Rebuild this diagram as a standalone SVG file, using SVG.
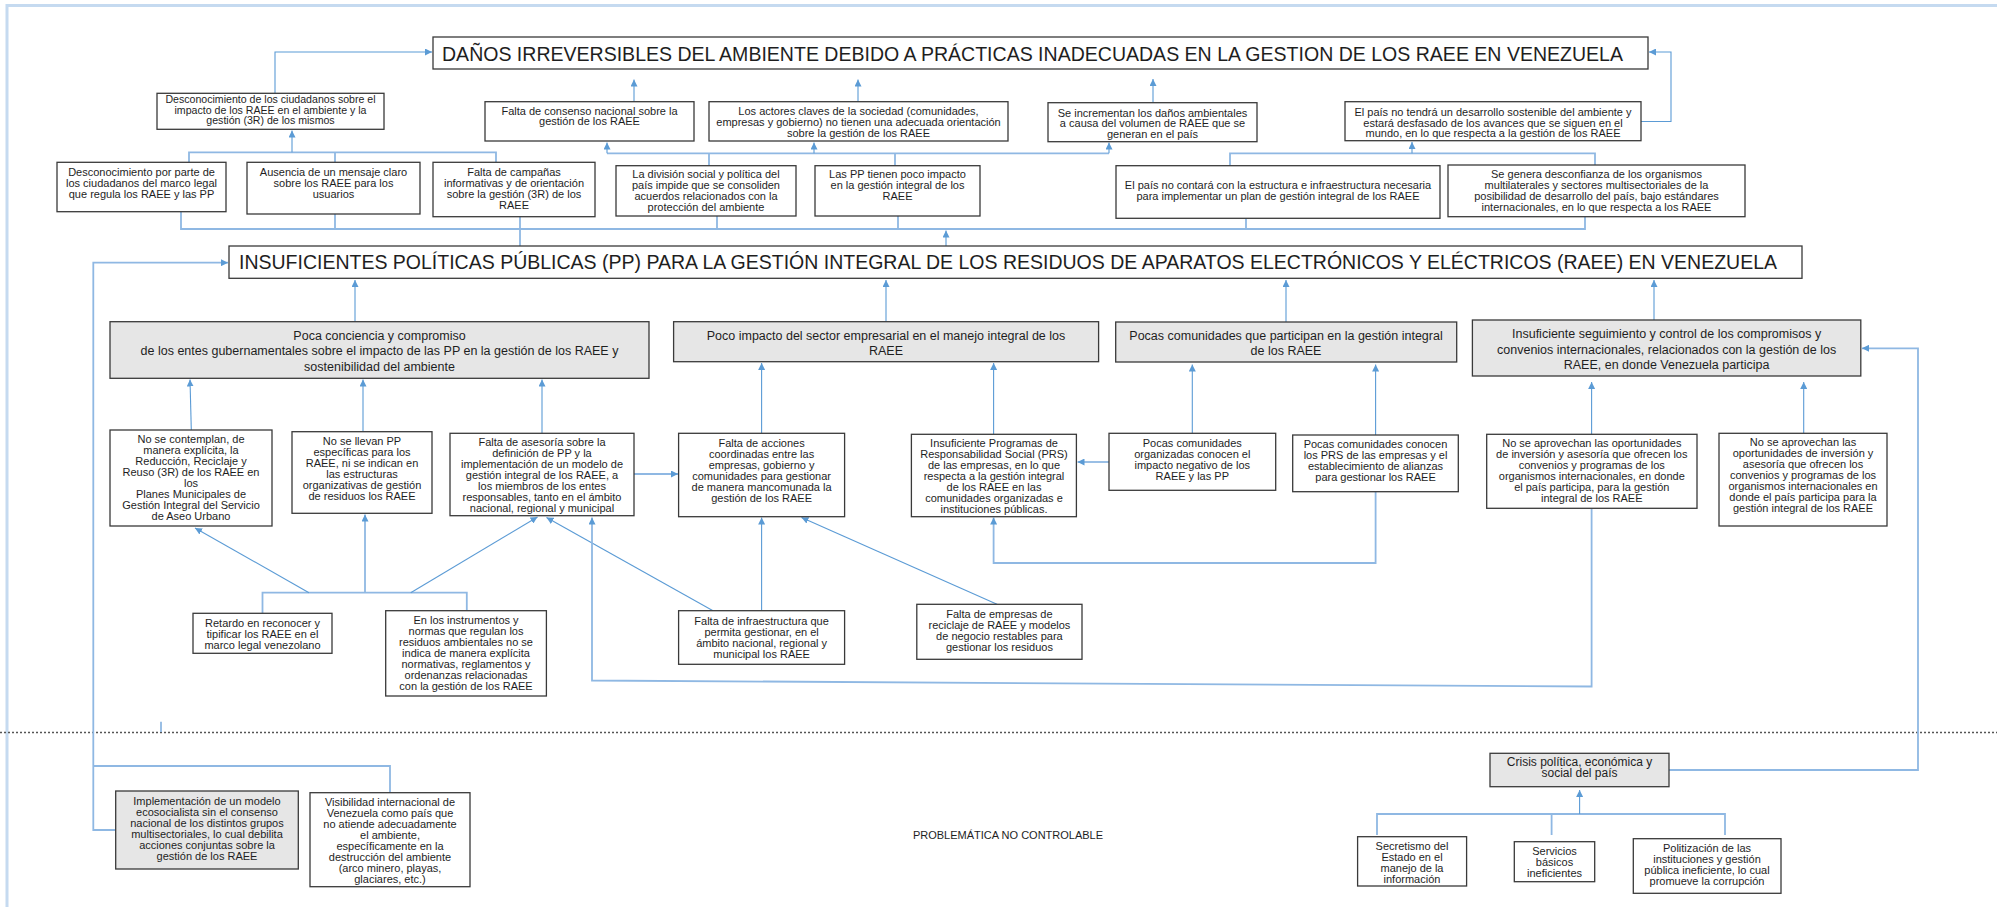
<svg xmlns="http://www.w3.org/2000/svg" width="1997" height="907" viewBox="0 0 1997 907">
<defs>
<marker id="ah" viewBox="0 0 8 8" markerWidth="7" markerHeight="7" refX="8" refY="4" orient="auto" markerUnits="userSpaceOnUse">
<path d="M0,0 L8,4 L0,8 z" fill="#5b9bd5"/>
</marker>
<style>
.b{fill:#fff;stroke:#3a3a3a;stroke-width:1.3}
.g{fill:#e6e6e6;stroke:#3a3a3a;stroke-width:1.3}
text{font-family:"Liberation Sans",Arial,sans-serif;fill:#1e1e1e}
.t{font-size:11px;text-anchor:middle}
.tm{font-size:10.6px;text-anchor:middle}
.tl{font-size:12.5px;text-anchor:middle}
.tc{font-size:12px;text-anchor:middle}
.tt{font-size:21px}
.c1{fill:none;stroke:#5b9bd5;stroke-width:1.1}
.c2{fill:none;stroke:#8fb8e3;stroke-width:1.8}
.ar{marker-end:url(#ah)}
</style>
</defs>
<rect x="0" y="0" width="1997" height="907" fill="#fff"/>
<rect x="7" y="5.5" width="2000" height="910" fill="none" stroke="#c5daf0" stroke-width="3"/>
<line x1="0" y1="732.5" x2="1997" y2="732.5" stroke="#555" stroke-width="1.4" stroke-dasharray="2 2"/>

<g id="connectors">
<path class="c1 ar" d="M275,93.3 V52 H432"/>
<path class="c1 ar" d="M1641,121.5 H1671 V52 H1649"/>
<path class="c1 ar" d="M634,101.7 V79.5"/>
<path class="c1 ar" d="M858,101.7 V79.5"/>
<path class="c1 ar" d="M1153,102.7 V79"/>
<path class="c2" d="M189,162.3 V152.3 H496 V162.3 M335,152.3 V162.3"/>
<path class="c1 ar" d="M292,152.3 V130.5"/>
<path class="c2" d="M607,153.3 H1109 M709,153.3 V165.7 M895,153.3 V165.7"/>
<path class="c1 ar" d="M607,153.3 V142.5"/>
<path class="c1 ar" d="M814,153.3 V142.5"/>
<path class="c1 ar" d="M1109,153.3 V142.5"/>
<path class="c2" d="M1230,165.7 V153.3 H1595 V165"/>
<path class="c1 ar" d="M1412,153.3 V142"/>
<path class="c2" d="M181,211.7 V229 H1585 V216.7 M335,214 V229 M520,216.7 V246 M717,216 V229 M898,216 V229 M1246,218.3 V229"/>
<path class="c1 ar" d="M946,246 V230.5"/>
<path class="c1 ar" d="M355,321.7 V280"/>
<path class="c1 ar" d="M886,321.7 V280"/>
<path class="c1 ar" d="M1286,322 V280"/>
<path class="c1 ar" d="M1654,320 V280"/>
<path class="c2 ar" d="M115.7,830 H93.3 V262.7 H228"/>
<path class="c2" d="M93.3,766 H390 V792.7"/>
<path class="c2" d="M161,721.7 V732"/>
<path class="c1 ar" d="M191.3,430 L190,379.5"/>
<path class="c1 ar" d="M363,431.7 V379.5"/>
<path class="c1 ar" d="M542,433.3 V379.5"/>
<path class="c1 ar" d="M761.6,433.3 V363"/>
<path class="c1 ar" d="M993.6,434.3 V363"/>
<path class="c1 ar" d="M1192.3,433.3 V364.5"/>
<path class="c1 ar" d="M1375.6,435 V364.5"/>
<path class="c1 ar" d="M1591.6,434.3 V382"/>
<path class="c1 ar" d="M1803.7,433.3 V382"/>
<path class="c2 ar" d="M634,474 H678"/>
<path class="c2 ar" d="M1109,462 H1077.5"/>
<path class="c2 ar" d="M1375.6,491.7 V563 H993.6 V517.5"/>
<path class="c2" d="M262.5,613.3 V592.7 H466.8 V610.7"/>
<path class="c1 ar" d="M309,592.7 L195,528"/>
<path class="c2 ar" d="M365,592.7 V514.5"/>
<path class="c1 ar" d="M410.7,592.7 L537.5,517"/>
<path class="c1 ar" d="M713,610.7 L546.5,517.5"/>
<path class="c1 ar" d="M761.6,610.7 V517.5"/>
<path class="c1 ar" d="M997,604.3 L801.5,517.5"/>
<path class="c2 ar" d="M1591.6,508.3 V686.5 L592,680.5 V517.5"/>
<path class="c2 ar" d="M1669,770 H1918 V348.3 H1862"/>
<path class="c2" d="M1377,835 V814 H1725 V835 M1551.6,814 V835"/>
<path class="c1 ar" d="M1579.6,814 V790"/>
</g>

<g id="n-title1">
<rect class="b" x="433" y="37" width="1215" height="32"/>
<text class="tt" x="442" y="60.5" textLength="1181" lengthAdjust="spacingAndGlyphs">DAÑOS IRREVERSIBLES DEL AMBIENTE DEBIDO A PRÁCTICAS INADECUADAS EN LA GESTION DE LOS RAEE EN VENEZUELA</text>
</g>

<g id="n-a">
<rect class="b" x="157" y="93.3" width="227" height="36"/>
<text class="tm" x="270.5" y="103">Desconocimiento de los ciudadanos sobre el</text>
<text class="tm" x="270.5" y="113.5">impacto de los RAEE en el ambiente y la</text>
<text class="tm" x="270.5" y="124">gestión (3R) de los mismos</text>
</g>
<g id="n-b">
<rect class="b" x="485" y="101.7" width="209" height="39.3"/>
<text class="t" x="589.5" y="114.5">Falta de consenso nacional sobre la</text>
<text class="t" x="589.5" y="125">gestión de los RAEE</text>
</g>
<g id="n-c">
<rect class="b" x="709" y="101.7" width="299" height="39.3"/>
<text class="t" x="858.5" y="114.5">Los actores claves de la sociedad (comunidades,</text>
<text class="t" x="858.5" y="125.5">empresas y gobierno) no tienen una adecuada orientación</text>
<text class="t" x="858.5" y="136.5">sobre la gestión de los RAEE</text>
</g>
<g id="n-d">
<rect class="b" x="1048" y="102.7" width="209" height="39"/>
<text class="t" x="1152.5" y="116.5">Se incrementan los daños ambientales</text>
<text class="t" x="1152.5" y="127">a causa del volumen de RAEE que se</text>
<text class="t" x="1152.5" y="137.5">generan en el país</text>
</g>
<g id="n-e">
<rect class="b" x="1345" y="101.7" width="296" height="39"/>
<text class="t" x="1493" y="115.5">El país no tendrá un desarrollo sostenible del ambiente y</text>
<text class="t" x="1493" y="126.5">estará desfasado de los avances que se siguen en el</text>
<text class="t" x="1493" y="137">mundo, en lo que respecta a la gestión de los RAEE</text>
</g>

<g id="n-r3a">
<rect class="b" x="57" y="162.3" width="169" height="49.4"/>
<text class="t" x="141.5" y="175.5">Desconocimiento por parte de</text>
<text class="t" x="141.5" y="186.5">los ciudadanos del marco legal</text>
<text class="t" x="141.5" y="197.5">que regula los RAEE y las PP</text>
</g>
<g id="n-r3b">
<rect class="b" x="247" y="162.3" width="173" height="51.7"/>
<text class="t" x="333.5" y="175.5">Ausencia de un mensaje claro</text>
<text class="t" x="333.5" y="186.5">sobre los RAEE para los</text>
<text class="t" x="333.5" y="197.5">usuarios</text>
</g>
<g id="n-r3c">
<rect class="b" x="433" y="162.3" width="162" height="54.4"/>
<text class="t" x="514" y="176">Falta de campañas</text>
<text class="t" x="514" y="187">informativas y de orientación</text>
<text class="t" x="514" y="198">sobre la gestión (3R) de los</text>
<text class="t" x="514" y="209">RAEE</text>
</g>
<g id="n-r3d">
<rect class="b" x="616" y="165.7" width="180" height="50.3"/>
<text class="t" x="706" y="177.5">La división social y política del</text>
<text class="t" x="706" y="188.5">país  impide que se consoliden</text>
<text class="t" x="706" y="199.5">acuerdos relacionados con la</text>
<text class="t" x="706" y="210.5">protección del ambiente</text>
</g>
<g id="n-r3e">
<rect class="b" x="815" y="165.7" width="165" height="50.3"/>
<text class="t" x="897.5" y="177.5">Las PP tienen poco impacto</text>
<text class="t" x="897.5" y="188.5">en la gestión integral de los</text>
<text class="t" x="897.5" y="199.5">RAEE</text>
</g>
<g id="n-r3f">
<rect class="b" x="1116" y="165.7" width="324" height="52.6"/>
<text class="t" x="1278" y="189">El país no contará con la estructura e infraestructura necesaria</text>
<text class="t" x="1278" y="200">para implementar un plan de gestión integral de los RAEE</text>
</g>
<g id="n-r3g">
<rect class="b" x="1448" y="165" width="297" height="51.7"/>
<text class="t" x="1596.5" y="177.5">Se genera desconfianza de los organismos</text>
<text class="t" x="1596.5" y="188.5">multilaterales y sectores multisectoriales de la</text>
<text class="t" x="1596.5" y="199.5">posibilidad de desarrollo del país, bajo estándares</text>
<text class="t" x="1596.5" y="210.5">internacionales, en lo que respecta a los RAEE</text>
</g>

<g id="n-title2">
<rect class="b" x="229" y="246" width="1573" height="32.3"/>
<text class="tt" x="239" y="269.3" font-size="20" textLength="1538" lengthAdjust="spacingAndGlyphs">INSUFICIENTES POLÍTICAS PÚBLICAS (PP) PARA LA GESTIÓN INTEGRAL DE LOS RESIDUOS DE APARATOS ELECTRÓNICOS Y ELÉCTRICOS (RAEE) EN VENEZUELA</text>
</g>

<g id="n-poca-conciencia">
<rect class="g" x="110" y="321.7" width="539" height="56.6"/>
<text class="tl" x="379.5" y="339.5">Poca conciencia y compromiso</text>
<text class="tl" x="379.5" y="355">de los entes gubernamentales sobre el impacto de las PP en la gestión de los RAEE y</text>
<text class="tl" x="379.5" y="370.5">sostenibilidad del ambiente</text>
</g>
<g id="n-poco-impacto">
<rect class="g" x="673.6" y="321.7" width="425" height="40"/>
<text class="tl" x="886" y="339.5">Poco impacto del sector empresarial en el manejo integral de los</text>
<text class="tl" x="886" y="354.5">RAEE</text>
</g>
<g id="n-pocas-comunidades">
<rect class="g" x="1115.7" y="322" width="341" height="40"/>
<text class="tl" x="1286" y="339.5">Pocas comunidades que participan en la gestión integral</text>
<text class="tl" x="1286" y="355">de los RAEE</text>
</g>
<g id="n-insuficiente-seguimiento">
<rect class="g" x="1472.4" y="320" width="388.4" height="56"/>
<text class="tl" x="1666.6" y="338">Insuficiente seguimiento y control de los compromisos y</text>
<text class="tl" x="1666.6" y="353.5">convenios internacionales, relacionados con la gestión de los</text>
<text class="tl" x="1666.6" y="368.5">RAEE, en donde Venezuela participa</text>
</g>

<g id="n-no-contemplan">
<rect class="b" x="110" y="430" width="162" height="96"/>
<text class="t" x="191" y="443">No se contemplan, de</text>
<text class="t" x="191" y="454">manera explícita, la</text>
<text class="t" x="191" y="465">Reducción, Reciclaje y</text>
<text class="t" x="191" y="476">Reuso (3R) de los RAEE en</text>
<text class="t" x="191" y="487">los</text>
<text class="t" x="191" y="498">Planes Municipales de</text>
<text class="t" x="191" y="509">Gestión Integral del Servicio</text>
<text class="t" x="191" y="520">de Aseo Urbano</text>
</g>
<g id="n-no-llevan">
<rect class="b" x="292" y="431.7" width="140" height="81.6"/>
<text class="t" x="362" y="444.5">No se llevan PP</text>
<text class="t" x="362" y="455.5">específicas para los</text>
<text class="t" x="362" y="466.5">RAEE, ni se indican en</text>
<text class="t" x="362" y="477.5">las estructuras</text>
<text class="t" x="362" y="488.5">organizativas de gestión</text>
<text class="t" x="362" y="499.5">de residuos los RAEE</text>
</g>
<g id="n-falta-asesoria">
<rect class="b" x="450" y="433.3" width="184" height="82.4"/>
<text class="t" x="542" y="446">Falta de asesoría sobre la</text>
<text class="t" x="542" y="457">definición de PP y la</text>
<text class="t" x="542" y="468">implementación de un modelo de</text>
<text class="t" x="542" y="479">gestión integral de los RAEE, a</text>
<text class="t" x="542" y="490">los miembros de  los entes</text>
<text class="t" x="542" y="501">responsables, tanto en el ámbito</text>
<text class="t" x="542" y="512">nacional, regional y municipal</text>
</g>
<g id="n-falta-acciones">
<rect class="b" x="678.6" y="433.3" width="166" height="83.4"/>
<text class="t" x="761.6" y="447">Falta de acciones</text>
<text class="t" x="761.6" y="458">coordinadas entre las</text>
<text class="t" x="761.6" y="469">empresas, gobierno y</text>
<text class="t" x="761.6" y="480">comunidades para gestionar</text>
<text class="t" x="761.6" y="491">de manera mancomunada la</text>
<text class="t" x="761.6" y="502">gestión de los RAEE</text>
</g>
<g id="n-insuficiente-programas">
<rect class="b" x="911.4" y="434.3" width="165" height="82.4"/>
<text class="t" x="994" y="447">Insuficiente Programas de</text>
<text class="t" x="994" y="458">Responsabilidad Social (PRS)</text>
<text class="t" x="994" y="469">de las empresas, en lo que</text>
<text class="t" x="994" y="480">respecta a la gestión integral</text>
<text class="t" x="994" y="491">de los RAEE en las</text>
<text class="t" x="994" y="502">comunidades organizadas e</text>
<text class="t" x="994" y="513">instituciones públicas.</text>
</g>
<g id="n-pocas-organizadas">
<rect class="b" x="1109" y="433.3" width="166.7" height="57"/>
<text class="t" x="1192.3" y="447">Pocas comunidades</text>
<text class="t" x="1192.3" y="458">organizadas conocen el</text>
<text class="t" x="1192.3" y="469">impacto negativo de los</text>
<text class="t" x="1192.3" y="480">RAEE y las PP</text>
</g>
<g id="n-pocas-conocen">
<rect class="b" x="1292.7" y="435" width="165.6" height="56.7"/>
<text class="t" x="1375.5" y="448">Pocas comunidades conocen</text>
<text class="t" x="1375.5" y="459">los PRS de las empresas y el</text>
<text class="t" x="1375.5" y="470">establecimiento de alianzas</text>
<text class="t" x="1375.5" y="481">para gestionar los RAEE</text>
</g>
<g id="n-aprovechan-1">
<rect class="b" x="1486.7" y="434.3" width="210.3" height="74"/>
<text class="t" x="1591.8" y="447">No se aprovechan las oportunidades</text>
<text class="t" x="1591.8" y="458">de inversión y asesoría que ofrecen los</text>
<text class="t" x="1591.8" y="469">convenios y programas de los</text>
<text class="t" x="1591.8" y="480">organismos internacionales, en donde</text>
<text class="t" x="1591.8" y="491">el país participa, para la gestión</text>
<text class="t" x="1591.8" y="502">integral de los RAEE</text>
</g>
<g id="n-aprovechan-2">
<rect class="b" x="1719" y="433.3" width="168" height="92.7"/>
<text class="t" x="1803" y="446">No se aprovechan las</text>
<text class="t" x="1803" y="457">oportunidades de inversión y</text>
<text class="t" x="1803" y="468">asesoría que ofrecen los</text>
<text class="t" x="1803" y="479">convenios y programas de los</text>
<text class="t" x="1803" y="490">organismos internacionales en</text>
<text class="t" x="1803" y="501">donde el país participa para la</text>
<text class="t" x="1803" y="512">gestión integral de los RAEE</text>
</g>

<g id="n-retardo">
<rect class="b" x="193" y="613.3" width="139" height="40"/>
<text class="t" x="262.5" y="627">Retardo en reconocer y</text>
<text class="t" x="262.5" y="638">tipificar los RAEE en el</text>
<text class="t" x="262.5" y="649">marco legal venezolano</text>
</g>
<g id="n-instrumentos">
<rect class="b" x="385.7" y="610.7" width="160.7" height="85.3"/>
<text class="t" x="466" y="624">En los instrumentos y</text>
<text class="t" x="466" y="635">normas que regulan los</text>
<text class="t" x="466" y="646">residuos ambientales no se</text>
<text class="t" x="466" y="657">indica de manera explícita</text>
<text class="t" x="466" y="668">normativas, reglamentos y</text>
<text class="t" x="466" y="679">ordenanzas relacionadas</text>
<text class="t" x="466" y="690">con la gestión de los RAEE</text>
</g>
<g id="n-infraestructura">
<rect class="b" x="678.6" y="610.7" width="166" height="53.6"/>
<text class="t" x="761.6" y="624.5">Falta de infraestructura que</text>
<text class="t" x="761.6" y="635.5">permita gestionar, en el</text>
<text class="t" x="761.6" y="646.5">ámbito nacional, regional y</text>
<text class="t" x="761.6" y="657.5">municipal los RAEE</text>
</g>
<g id="n-empresas-reciclaje">
<rect class="b" x="916.8" y="604.3" width="165.2" height="55"/>
<text class="t" x="999.4" y="618">Falta de empresas de</text>
<text class="t" x="999.4" y="629">reciclaje de RAEE y modelos</text>
<text class="t" x="999.4" y="640">de negocio restables para</text>
<text class="t" x="999.4" y="651">gestionar los residuos</text>
</g>

<g id="n-implementacion">
<rect class="g" x="115.7" y="791" width="182.6" height="78"/>
<text class="t" x="207" y="804.5">Implementación de un modelo</text>
<text class="t" x="207" y="815.5">ecosocialista sin el consenso</text>
<text class="t" x="207" y="826.5">nacional de los distintos grupos</text>
<text class="t" x="207" y="837.5">multisectoriales, lo cual debilita</text>
<text class="t" x="207" y="848.5">acciones conjuntas sobre la</text>
<text class="t" x="207" y="859.5">gestión de los RAEE</text>
</g>
<g id="n-visibilidad">
<rect class="b" x="310" y="792.7" width="160" height="94"/>
<text class="t" x="390" y="806">Visibilidad internacional de</text>
<text class="t" x="390" y="817">Venezuela como país que</text>
<text class="t" x="390" y="828">no atiende adecuadamente</text>
<text class="t" x="390" y="839">el ambiente,</text>
<text class="t" x="390" y="850">específicamente en la</text>
<text class="t" x="390" y="861">destrucción del ambiente</text>
<text class="t" x="390" y="872">(arco minero, playas,</text>
<text class="t" x="390" y="883">glaciares, etc.)</text>
</g>

<g id="n-label">
<text class="t" x="1008" y="838.5" font-size="12.5">PROBLEMÁTICA NO CONTROLABLE</text>
</g>

<g id="n-crisis">
<rect class="g" x="1490" y="753.3" width="179" height="33.4"/>
<text class="tc" x="1579.5" y="765.5">Crisis política, económica y</text>
<text class="tc" x="1579.5" y="776.5">social del país</text>
</g>
<g id="n-secretismo">
<rect class="b" x="1357.6" y="836.7" width="109" height="49.3"/>
<text class="t" x="1412" y="850">Secretismo del</text>
<text class="t" x="1412" y="861">Estado en el</text>
<text class="t" x="1412" y="872">manejo de la</text>
<text class="t" x="1412" y="883">información</text>
</g>
<g id="n-servicios">
<rect class="b" x="1514.3" y="841.7" width="80.4" height="40"/>
<text class="t" x="1554.5" y="855">Servicios</text>
<text class="t" x="1554.5" y="866">básicos</text>
<text class="t" x="1554.5" y="877">ineficientes</text>
</g>
<g id="n-politizacion">
<rect class="b" x="1633.3" y="838.7" width="147.7" height="54.6"/>
<text class="t" x="1707" y="851.5">Politización de las</text>
<text class="t" x="1707" y="862.5">instituciones y gestión</text>
<text class="t" x="1707" y="873.5">pública ineficiente, lo cual</text>
<text class="t" x="1707" y="884.5">promueve la corrupción</text>
</g>
</svg>
